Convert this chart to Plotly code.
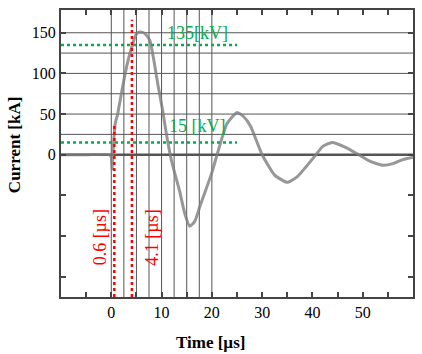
import plotly.graph_objects as go

# Current waveform (time in µs, current in kA)
time_us = [-10, -5, -0.4, 0.0, 0.15, 0.35, 0.8, 1.2, 2.0, 2.8, 3.5, 4.1, 4.7, 5.2, 5.8, 6.4, 7.0, 7.7,
           8.5, 9.3, 10.2, 11.0, 12.0, 13.6, 14.6, 15.6, 16.6, 17.6, 20.0, 21.5, 23.0, 25.0, 26.3,
           27.7, 30.0, 32.5, 35.0, 37.0, 38.7, 40.7, 42.0, 43.9, 46.6, 49.2, 51.4, 54.0, 56.0, 58.0, 60.0]
current_ka = [0, 0, 0, -3, -18, 5, 39, 48, 75, 101, 120, 133, 145, 150, 151, 150, 147, 140,
              115, 85, 55, 24, -8, -45, -72, -88, -82, -64, -22, 10, 38, 52, 47,
              35, 0, -25, -34, -27, -15, 0, 10, 15, 9, 0, -8, -13, -11, -6, -3]

# Annotated levels
volt_levels = [135, 15]
volt_labels = ["135[kV]", "15 [kV]"]
volt_label_y = [150, 35]
volt_line_end = 25
time_marks = [0.6, 4.1]
time_mark_tops = [39, 166]
time_labels = ["0.6 [µs]", "4.1 [µs]"]
time_label_x = [-2.3, 8.1]

# Axes
x_range = [-10, 60]
y_range = [-175, 178]
x_tickvals = [-5, 0, 5, 10, 15, 20, 25, 30, 35, 40, 45, 50, 55]
x_ticktext = ["", "0", "", "10", "", "20", "", "30", "", "40", "", "50", ""]
y_tickvals = [-150, -100, -50, 0, 50, 100, 150]
y_ticktext = ["", "", "", "0", "50", "100", "150"]
vgrid_vals = [0, 2.5, 5, 7.5, 10, 12.5, 15, 17.5, 20]
hgrid_vals = [25, 50, 75, 100, 125, 150]

GREEN = "rgb(0,176,80)"
RED = "rgb(255,0,0)"
FONT = "Liberation Serif"

fig = go.Figure()

# vertical grid (0..20 µs), full height
for v in vgrid_vals:
    fig.add_trace(go.Scatter(x=[v, v], y=y_range, mode="lines",
                             line=dict(color="#555", width=1), hoverinfo="skip", showlegend=False))
# horizontal grid (positive part), full width
for h in hgrid_vals:
    fig.add_trace(go.Scatter(x=x_range, y=[h, h], mode="lines",
                             line=dict(color="#555", width=1), hoverinfo="skip", showlegend=False))
# zero line
fig.add_trace(go.Scatter(x=x_range, y=[0, 0], mode="lines",
                         line=dict(color="#555", width=2.5), hoverinfo="skip", showlegend=False))

# waveform
fig.add_trace(go.Scatter(x=time_us, y=current_ka, mode="lines",
                         line=dict(color="rgba(125,125,125,0.8)", width=3, shape="spline", smoothing=0.5),
                         showlegend=False))

# green voltage levels
for lvl, lab, ly in zip(volt_levels, volt_labels, volt_label_y):
    fig.add_trace(go.Scatter(x=[x_range[0], volt_line_end], y=[lvl, lvl], mode="lines",
                             line=dict(color=GREEN, width=2.5, dash="dot"), showlegend=False))
    fig.add_annotation(x=17.2, y=ly, text=lab, showarrow=False,
                       font=dict(family=FONT, size=18, color=GREEN), xanchor="center", yanchor="middle")

# red time marks
for t, top, lab, lx in zip(time_marks, time_mark_tops, time_labels, time_label_x):
    fig.add_trace(go.Scatter(x=[t, t], y=[y_range[0], top], mode="lines",
                             line=dict(color=RED, width=2.5, dash="dot"), showlegend=False))
    fig.add_annotation(x=lx, y=-102, text=lab, showarrow=False, textangle=-90,
                       font=dict(family=FONT, size=18, color=RED), xanchor="center", yanchor="middle")

fig.add_annotation(x=0.424, y=-0.16, xref="paper", yref="paper", text="<b>Time [µs]</b>", showarrow=False,
                   font=dict(family=FONT, size=17, color="black"), xanchor="center", yanchor="middle")
fig.add_annotation(x=-0.13, y=0.53, xref="paper", yref="paper", text="<b>Current [kA]</b>", showarrow=False,
                   textangle=-90, font=dict(family=FONT, size=17, color="black"),
                   xanchor="center", yanchor="middle")

fig.update_layout(
    width=422, height=354,
    margin=dict(l=61, r=7, t=10, b=57),
    paper_bgcolor="white", plot_bgcolor="white",
    xaxis=dict(range=x_range, tickvals=x_tickvals, ticktext=x_ticktext, showgrid=False, zeroline=False,
               ticks="inside", ticklen=5, tickcolor="#444", tickwidth=2,
               showline=True, linecolor="#444", linewidth=2, mirror="ticks",
               tickfont=dict(family=FONT, size=16, color="black")),
    yaxis=dict(range=y_range, tickvals=y_tickvals, ticktext=y_ticktext, showgrid=False, zeroline=False,
               ticks="inside", ticklen=5, tickcolor="#444", tickwidth=2,
               showline=True, linecolor="#444", linewidth=2, mirror="ticks",
               tickfont=dict(family=FONT, size=16, color="black")),
)

fig.write_html("out.html", config={"displayModeBar": False},
               post_script="document.body.style.margin='0';")
